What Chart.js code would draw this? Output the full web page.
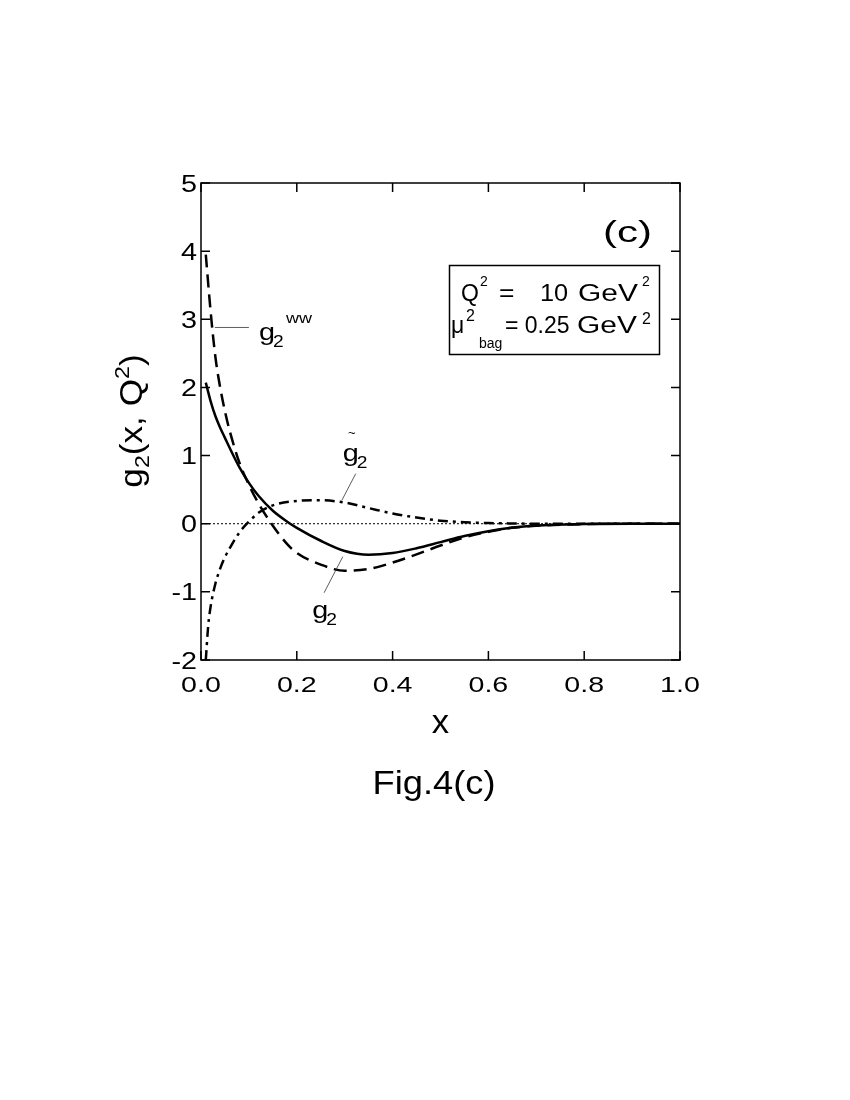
<!DOCTYPE html>
<html>
<head>
<meta charset="utf-8">
<script src="https://cdn.jsdelivr.net/npm/chart.js@4.4.0/dist/chart.umd.min.js"></script>
<style>
  html, body { margin: 0; padding: 0; background: #fff; }
</style>
</head>
<body>
<canvas id="g2Chart" width="850" height="1100"></canvas>
<script>
const xGrid = [0.01, 0.02, 0.03, 0.04, 0.05, 0.06, 0.08, 0.10, 0.12, 0.15, 0.18, 0.20, 0.25, 0.30, 0.35, 0.40, 0.45, 0.50, 0.55, 0.60, 0.65, 0.70, 0.80, 0.90, 1.00];
const g2Values   = [2.07, 1.80, 1.58, 1.41, 1.26, 1.11, 0.83, 0.60, 0.41, 0.19, 0.03, -0.06, -0.25, -0.40, -0.455, -0.43, -0.36, -0.27, -0.18, -0.11, -0.055, -0.025, -0.005, 0, 0];
const g2wwValues = [3.95, 3.12, 2.45, 2.00, 1.65, 1.36, 0.90, 0.57, 0.30, -0.03, -0.30, -0.43, -0.60, -0.69, -0.665, -0.57, -0.45, -0.32, -0.20, -0.12, -0.06, -0.03, -0.005, 0, 0];
const xTilde = [0.01, 0.015, 0.02, 0.03, 0.04, 0.05, 0.06, 0.08, 0.10, 0.12, 0.15, 0.20, 0.25, 0.30, 0.35, 0.40, 0.45, 0.50, 0.55, 0.60, 0.65, 0.70, 0.80, 1.00];
const g2TildeValues = [-2.0, -1.5, -1.22, -0.88, -0.66, -0.49, -0.36, -0.13, 0.03, 0.16, 0.27, 0.335, 0.345, 0.31, 0.23, 0.15, 0.09, 0.045, 0.022, 0.01, 0.004, 0, 0, 0];
const xTicks = [0, 0.2, 0.4, 0.6, 0.8, 1.0];
const xTickLabels = ['0.0', '0.2', '0.4', '0.6', '0.8', '1.0'];
const yTicks = [-2, -1, 0, 1, 2, 3, 4, 5];
const yTickLabels = ['-2', '-1', '0', '1', '2', '3', '4', '5'];

const FONT = '"Liberation Sans", Arial, Helvetica, sans-serif';

function pts(xs, ys) {
  return xs.map((x, i) => ({ x: x, y: ys[i] }));
}

// draw a text piece, optionally stretched horizontally
function txt(ctx, s, x, y, size, align, sx) {
  ctx.save();
  ctx.font = size + 'px ' + FONT;
  ctx.translate(x, y);
  ctx.scale(sx || 1, 1);
  ctx.textAlign = align || 'left';
  ctx.textBaseline = 'alphabetic';
  ctx.fillStyle = '#000';
  ctx.fillText(s, 0, 0);
  ctx.restore();
}

const framePlugin = {
  id: 'frame',
  afterDraw(chart) {
    const ctx = chart.ctx;
    const a = chart.chartArea;
    const xs = chart.scales.x, ys = chart.scales.y;
    ctx.save();
    ctx.strokeStyle = '#000';
    ctx.lineWidth = 1.5;
    ctx.strokeRect(a.left, a.top, a.right - a.left, a.bottom - a.top);

    // inward ticks on all four sides
    ctx.beginPath();
    xTicks.forEach(v => {
      const px = xs.getPixelForValue(v);
      ctx.moveTo(px, a.bottom); ctx.lineTo(px, a.bottom - 9);
      ctx.moveTo(px, a.top); ctx.lineTo(px, a.top + 9);
    });
    yTicks.forEach(v => {
      const py = ys.getPixelForValue(v);
      ctx.moveTo(a.left, py); ctx.lineTo(a.left + 9, py);
      ctx.moveTo(a.right, py); ctx.lineTo(a.right - 9, py);
    });
    ctx.stroke();

    // tick labels
    xTicks.forEach((v, i) => txt(ctx, xTickLabels[i], xs.getPixelForValue(v), a.bottom + 32, 22, 'center', 1.3));
    yTicks.forEach((v, i) => txt(ctx, yTickLabels[i], a.left - 4, ys.getPixelForValue(v) + 8.5, 23, 'right', 1.25));

    // axis titles
    txt(ctx, 'x', (a.left + a.right) / 2, 733, 33, 'center', 1.05);
    txt(ctx, 'Fig.4(c)', 434, 794, 33, 'center', 1.1);

    ctx.save();
    ctx.translate(142, 421);
    ctx.rotate(-Math.PI / 2);
    const segs = [['g', 32, 0], ['2', 21, 7], ['(x, Q', 32, 0], ['2', 21, -13], [')', 32, 0]];
    let total = 0;
    segs.forEach(s => { ctx.font = s[1] + 'px ' + FONT; total += ctx.measureText(s[0]).width * 1.1; });
    let cx = -total / 2;
    segs.forEach(s => {
      ctx.font = s[1] + 'px ' + FONT;
      txt(ctx, s[0], cx, s[2], s[1], 'left', 1.1);
      cx += ctx.measureText(s[0]).width * 1.1;
    });
    ctx.restore();

    // panel tag
    txt(ctx, '(c)', 652, 242, 30, 'right', 1.4);

    // parameter box
    ctx.lineWidth = 1.5;
    ctx.strokeRect(449.5, 265.5, 210, 89);
    txt(ctx, 'Q', 461, 301, 23, 'left', 1);
    txt(ctx, '2', 480, 286, 14, 'left', 1);
    txt(ctx, '=', 499, 301, 23, 'left', 1.15);
    txt(ctx, '10', 540, 301, 23, 'left', 1.1);
    txt(ctx, 'GeV', 578, 301, 23, 'left', 1.3);
    txt(ctx, '2', 642, 286, 14, 'left', 1);
    txt(ctx, '\u03bc', 451, 333, 23, 'left', 1);
    txt(ctx, '2', 466, 321, 16, 'left', 1);
    txt(ctx, 'bag', 479, 348, 14, 'left', 1);
    txt(ctx, '= 0.25', 505, 333, 23, 'left', 1);
    txt(ctx, 'GeV', 577, 333, 23, 'left', 1.3);
    txt(ctx, '2', 642, 324, 16, 'left', 1);

    // curve labels with leader lines (in data units)
    const P = (x, y) => [xs.getPixelForValue(x), ys.getPixelForValue(y)];
    ctx.lineWidth = 0.8;
    ctx.strokeStyle = '#333';
    const leaders = [[0.029, 2.88, 0.100, 2.88], [0.323, 0.734, 0.294, 0.342], [0.296, -0.484, 0.257, -1.013]];
    leaders.forEach(l => {
      const p1 = P(l[0], l[1]), p2 = P(l[2], l[3]);
      ctx.beginPath(); ctx.moveTo(p1[0], p1[1]); ctx.lineTo(p2[0], p2[1]); ctx.stroke();
    });
    let p = P(0.121, 2.70);
    txt(ctx, 'g', p[0], p[1], 24, 'left', 1.2);
    txt(ctx, '2', p[0] + 14, p[1] + 7, 16, 'left', 1.2);
    txt(ctx, 'ww', p[0] + 27, p[1] - 17, 15, 'left', 1.2);
    p = P(0.296, 0.925);
    txt(ctx, '~', p[0] + 9, p[1] - 24, 13, 'center', 1);
    txt(ctx, 'g', p[0], p[1], 24, 'left', 1.2);
    txt(ctx, '2', p[0] + 14, p[1] + 7, 16, 'left', 1.2);
    p = P(0.232, -1.38);
    txt(ctx, 'g', p[0], p[1], 24, 'left', 1.2);
    txt(ctx, '2', p[0] + 14, p[1] + 7, 16, 'left', 1.2);
    ctx.restore();
  }
};

const ctx = document.getElementById('g2Chart').getContext('2d');

new Chart(ctx, {
  type: 'line',
  data: {
    datasets: [
      { label: 'zero', data: pts([0, 1], [0, 0]), borderColor: '#000', borderWidth: 1, borderDash: [2, 2], pointRadius: 0 },
      { label: 'g2', data: pts(xGrid, g2Values), borderColor: '#000', borderWidth: 2.5, pointRadius: 0, cubicInterpolationMode: 'monotone' },
      { label: 'g2ww', data: pts(xGrid, g2wwValues), borderColor: '#000', borderWidth: 2.5, borderDash: [13, 7], pointRadius: 0, cubicInterpolationMode: 'monotone' },
      { label: 'g2tilde', data: pts(xTilde, g2TildeValues), borderColor: '#000', borderWidth: 2.5, borderDash: [10, 5, 3, 5], pointRadius: 0, cubicInterpolationMode: 'monotone' }
    ]
  },
  options: {
    responsive: false,
    animation: false,
    devicePixelRatio: 1,
    layout: { padding: { left: 201, top: 183, right: 170, bottom: 440 } },
    scales: {
      x: { type: 'linear', min: 0, max: 1, display: false },
      y: { type: 'linear', min: -2, max: 5, display: false }
    },
    plugins: {
      legend: { display: false },
      tooltip: { enabled: false }
    }
  },
  plugins: [framePlugin]
});
</script>
</body>
</html>
